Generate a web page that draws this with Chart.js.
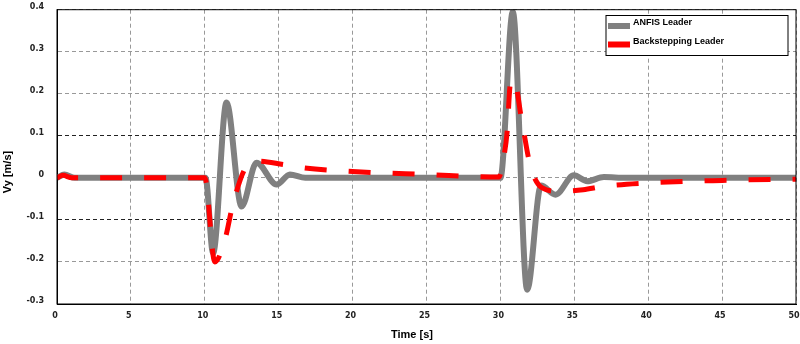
<!DOCTYPE html>
<html>
<head>
<meta charset="utf-8">
<script src="https://cdn.jsdelivr.net/npm/chart.js@4"></script>
<style>
    html, body { margin: 0; padding: 0; background: #fff; }
    #wrap { width: 800px; height: 344px; }
</style>
</head>
<body>
<div id="wrap"><canvas id="vyChart"></canvas></div>
<script>
const timeAnfis = [0, 0.5, 1.2, 10.05, 10.56, 11.47, 12.49, 13.5, 14.86, 15.76, 16.8, 30.0, 30.84, 31.81, 32.75, 33.73, 34.97, 35.88, 37.0, 38.5, 50];
const vyAnfis   = [0, 0.008, 0, 0, -0.179, 0.179, -0.068, 0.036, -0.016, 0.008, 0, 0, 0.395, -0.266, -0.018, -0.04, 0.006, -0.008, 0.002, 0, 0];

const timeBack = [0, 0.4, 1.0, 10.0, 10.68, 11.36, 11.92, 12.83, 13.6, 15.3, 16.7, 20, 25, 29.9, 30.2, 30.45, 30.68, 30.9, 31.47, 32.03, 32.83, 33.95, 35.6, 37, 40, 45, 50];
const vyBack   = [0, 0.006, 0, 0, -0.2, -0.147, -0.06, 0.028, 0.04, 0.032, 0.024, 0.015, 0.008, 0.002, 0.044, 0.107, 0.226, 0.234, 0.131, 0.028, -0.024, -0.032, -0.028, -0.02, -0.012, -0.006, -0.003];

const seriesLabels = ["ANFIS Leader", "Backstepping Leader"];
const seriesColors = ["#808080", "#ff0000"];
const xTitle = "Time [s]";
const yTitle = "Vy [m/s]";

function toPoints(xs, ys) {
    return xs.map(function(x, i) { return {x: x, y: ys[i]}; });
}

// frame, axis titles and the legend box inside the plot
const boxLegend = {
    id: 'boxLegend',
    afterDraw(chart) {
        const ctx = chart.ctx;
        const a = chart.chartArea;
        ctx.save();
        ctx.strokeStyle = '#000';
        ctx.lineWidth = 1;
        ctx.setLineDash([]);
        ctx.strokeRect(a.left, a.top, a.right - a.left, a.bottom - a.top);

        // axis titles (a bit left of / below centre, like the original)
        ctx.fillStyle = '#000';
        ctx.font = 'bold 11px "Liberation Sans", Arial, sans-serif';
        ctx.textAlign = 'center';
        ctx.textBaseline = 'middle';
        ctx.fillText(xTitle, 412, 335);
        ctx.save();
        ctx.translate(7.5, 172);
        ctx.rotate(-Math.PI / 2);
        ctx.fillText(yTitle, 0, 0);
        ctx.restore();

        const x0 = 606, y0 = 15.5, w = 182, h = 40;
        ctx.fillStyle = '#fff';
        ctx.fillRect(x0, y0, w, h);
        ctx.strokeRect(x0, y0, w, h);
        ctx.font = 'bold 9px "Liberation Sans", Arial, sans-serif';
        ctx.textAlign = 'left';
        const rows = [[26, 23], [44.5, 41.5]];
        for (let i = 0; i < 2; i++) {
            ctx.strokeStyle = seriesColors[i];
            ctx.lineWidth = 6;
            ctx.beginPath();
            ctx.moveTo(608, rows[i][0]);
            ctx.lineTo(630, rows[i][0]);
            ctx.stroke();
            ctx.fillStyle = '#000';
            ctx.fillText(seriesLabels[i], 633, rows[i][1]);
        }
        ctx.restore();
    }
};

const tickFont = {family: '"DejaVu Sans", sans-serif', size: 8, weight: 'bold'};

new Chart(document.getElementById('vyChart'), {
    type: 'line',
    data: {
        datasets: [{
            label: seriesLabels[0],
            data: toPoints(timeAnfis, vyAnfis),
            borderColor: seriesColors[0],
            borderWidth: 6,
            cubicInterpolationMode: 'monotone',
            pointRadius: 0,
            fill: false,
            order: 2
        }, {
            label: seriesLabels[1],
            data: toPoints(timeBack, vyBack),
            borderColor: seriesColors[1],
            borderWidth: 5,
            borderDash: [22, 22],
            borderDashOffset: 0,
            borderCapStyle: 'butt',
            cubicInterpolationMode: 'monotone',
            pointRadius: 0,
            fill: false,
            order: 1
        }]
    },
    options: {
        responsive: true,
        maintainAspectRatio: false,
        animation: false,
        layout: {padding: {top: 9.7, right: 4, left: 0, bottom: 0}},
        plugins: {
            legend: {display: false},
            tooltip: {enabled: false}
        },
        scales: {
            x: {
                type: 'linear',
                min: 0,
                max: 50,
                ticks: {stepSize: 5, font: tickFont, color: '#222', padding: 7, maxRotation: 0, labelOffset: -2},
                grid: {color: '#999', lineWidth: 1, drawTicks: false},
                border: {display: true, color: '#000', width: 1, dash: [4, 3]},
                afterFit(scale) {
                    scale.height = 40;
                    scale.paddingLeft = 0;
                    scale.paddingRight = 0;
                }
            },
            y: {
                min: -0.3,
                max: 0.4,
                ticks: {
                    stepSize: 0.1,
                    font: tickFont,
                    color: '#222',
                    padding: 13,
                    labelOffset: -3,
                    callback: function(v) { return Math.abs(v) < 1e-9 ? '0' : v.toFixed(1); }
                },
                grid: {
                    color: function(c) {
                        const v = c.tick ? c.tick.value : 0;
                        return Math.abs(Math.abs(v) - 0.1) < 1e-6 ? '#222' : '#999';
                    },
                    lineWidth: 1,
                    drawTicks: false
                },
                border: {display: true, color: '#000', width: 1, dash: [4, 3]},
                afterFit(scale) {
                    scale.width = 57;
                    scale.paddingTop = 0;
                    scale.paddingBottom = 0;
                }
            }
        }
    },
    plugins: [boxLegend]
});
</script>
</body>
</html>
